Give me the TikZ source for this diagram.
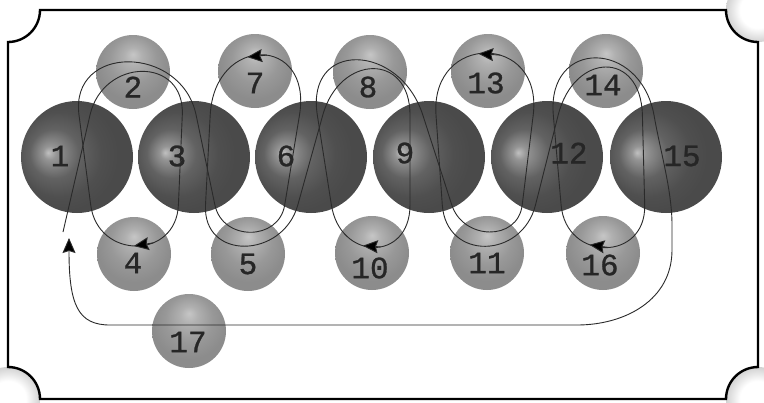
\documentclass[tikz,border=0pt]{standalone}
\usepackage{fontspec}
\newfontfamily\ballfont{Liberation Mono}[FakeBold=0.9]
\usetikzlibrary{arrows.meta,calc}
\definecolor{bigA}{HTML}{C0C0C0}
\definecolor{bigB}{HTML}{959595}
\definecolor{bigC}{HTML}{626262}
\definecolor{bigD}{HTML}{4F4F4F}
\definecolor{bigE}{HTML}{4A4A4A}
\definecolor{smA}{HTML}{C6C6C6}
\definecolor{smB}{HTML}{B0B0B0}
\definecolor{smC}{HTML}{989898}
\definecolor{smD}{HTML}{8C8C8C}
\definecolor{cornA}{HTML}{FFFFFF}
\definecolor{cornB}{HTML}{D2D2D2}
\definecolor{pathcol}{HTML}{2A2A2A}
\definecolor{labcol}{HTML}{262626}
\pgfdeclareradialshading{bigballshade}{\pgfpoint{-13bp}{2bp}}{color(0bp)=(bigA); color(3bp)=(bigB); color(11bp)=(bigC); color(19bp)=(bigD); color(25bp)=(bigE); color(50bp)=(bigE)}
\pgfdeclareradialshading{smallballshade}{\pgfpoint{0bp}{12bp}}{color(0bp)=(smA); color(6bp)=(smB); color(16bp)=(smC); color(25bp)=(smD); color(50bp)=(smD)}
\pgfdeclareradialshading{cornershade}{\pgfpoint{0bp}{0bp}}{color(0bp)=(cornA); color(14bp)=(cornA); color(25bp)=(cornB); color(50bp)=(cornB)}
\begin{document}
\begin{tikzpicture}[x=1bp,y=-1bp,
  bigball/.style={circle,minimum size=112bp,inner sep=0pt,shade,shading=bigballshade},
  smallball/.style={circle,minimum size=74bp,inner sep=0pt,shade,shading=smallballshade},
  lbl/.style={font=\ballfont\fontsize{31bp}{31bp}\selectfont,text=labcol,inner sep=0pt},
  route/.style={draw=pathcol,line width=0.9bp},
  headed/.style={route,-{Stealth[length=15bp,width=13bp,inset=2bp,fill=black]}},
  frame/.style={draw=black,line width=2.4bp}]
\useasboundingbox (0,0) rectangle (764,402);
\fill[white] (0,0) rectangle (764,402);
% corner shadings
\shade[shading=cornershade] (758,10) circle[radius=32];
\shade[shading=cornershade] (758,399) circle[radius=32];
\shade[shading=cornershade] (8,399) circle[radius=32];
% frame
\draw[frame] (40,10) -- (726,10) arc[start angle=180,end angle=90,radius=32]
  -- (758,367) arc[start angle=270,end angle=180,radius=32]
  -- (40,399) arc[start angle=0,end angle=-90,radius=32]
  -- (8,42) arc[start angle=90,end angle=0,radius=32] -- cycle;
% big balls
\node[bigball] (b1) at (77,157) {};
\node[bigball] (b3) at (194,157) {};
\node[bigball] (b6) at (311,157) {};
\node[bigball] (b9) at (429,157) {};
\node[bigball] (b12) at (547,157) {};
\node[bigball] (b15) at (666,157) {};
% small balls
\node[smallball] (s2) at (133,72) {};
\node[smallball] (s7) at (255,71) {};
\node[smallball] (s8) at (370,72) {};
\node[smallball] (s13) at (488,71) {};
\node[smallball] (s14) at (606,71) {};
\node[smallball] (s4) at (134,254) {};
\node[smallball] (s5) at (248,254) {};
\node[smallball] (s10) at (372,253) {};
\node[smallball] (s11) at (487,253) {};
\node[smallball] (s16) at (603,253) {};
\node[smallball] (s17) at (189,331) {};
% route feet
\coordinate (start) at (63,232);
\coordinate (t2iL) at (90,115);   \coordinate (t2iR) at (182.3,115);
\coordinate (t2oL) at (79,115);   \coordinate (t2oR) at (196.1,115);
\coordinate (t7R) at (299.5,115); \coordinate (t7L) at (210.2,115);
\coordinate (t8iL) at (322.8,115);\coordinate (t8iR) at (410,115);
\coordinate (t8oL) at (317.3,115);\coordinate (t8oR) at (422.8,115);
\coordinate (t13R) at (533.2,115);\coordinate (t13L) at (436,115);
\coordinate (t14iL) at (558.2,115);\coordinate (t14iR) at (642.4,115);
\coordinate (t14oL) at (553.3,115);\coordinate (t14oR) at (654,115);
\coordinate (b4R) at (178.4,205); \coordinate (b4L) at (90.7,205);
\coordinate (b5iL) at (214.9,205);\coordinate (b5iR) at (284.7,205);
\coordinate (b5oL) at (205.5,205);\coordinate (b5oR) at (297.8,205);
\coordinate (b10R) at (410,205);  \coordinate (b10L) at (331.4,205);
\coordinate (b11iL) at (451.8,205);\coordinate (b11iR) at (522.2,205);
\coordinate (b11oL) at (442.3,205);\coordinate (b11oR) at (535.5,205);
\coordinate (b16R) at (644.7,205);\coordinate (b16L) at (561.1,205);
\coordinate (down15) at (668,190);
\coordinate (finish) at (69,238);
% route
\draw[route] (start) -- (t2iL)
  .. controls ($(t2iL)!-59bp!(start)$) and ($(t2iR)!-59bp!(b4R)$) .. (t2iR) -- (b4R);
\draw[route] (b4R) .. controls ($(b4R)!-55bp!(t2iR)$) and ($(b4L)!-55bp!(t2oL)$) .. (b4L)
  coordinate[pos=0.36] (a4) coordinate[pos=0.52] (h4);
\draw[route] (b4L) -- (t2oL)
  .. controls ($(t2oL)!-72bp!(b4L)$) and ($(t2oR)!-72bp!(b5iL)$) .. (t2oR) -- (b5iL)
  .. controls ($(b5iL)!-37bp!(t2oR)$) and ($(b5iR)!-37bp!(t7R)$) .. (b5iR) -- (t7R);
\draw[route] (t7R) .. controls ($(t7R)!-81bp!(b5iR)$) and ($(t7L)!-81bp!(b5oL)$) .. (t7L)
  coordinate[pos=0.46] (a7) coordinate[pos=0.6] (h7);
\draw[route] (t7L) -- (b5oL)
  .. controls ($(b5oL)!-56bp!(t7L)$) and ($(b5oR)!-56bp!(t8iL)$) .. (b5oR) -- (t8iL)
  .. controls ($(t8iL)!-63bp!(b5oR)$) and ($(t8iR)!-63bp!(b10R)$) .. (t8iR) -- (b10R);
\draw[route] (b10R) .. controls ($(b10R)!-57bp!(t8iR)$) and ($(b10L)!-57bp!(t8oL)$) .. (b10L)
  coordinate[pos=0.44] (a10) coordinate[pos=0.6] (h10);
\draw[route] (b10L) -- (t8oL)
  .. controls ($(t8oL)!-76bp!(b10L)$) and ($(t8oR)!-76bp!(b11iL)$) .. (t8oR) -- (b11iL)
  .. controls ($(b11iL)!-37bp!(t8oR)$) and ($(b11iR)!-37bp!(t13R)$) .. (b11iR) -- (t13R);
\draw[route] (t13R) .. controls ($(t13R)!-83bp!(b11iR)$) and ($(t13L)!-83bp!(b11oL)$) .. (t13L)
  coordinate[pos=0.41] (a13) coordinate[pos=0.55] (h13);
\draw[route] (t13L) -- (b11oL)
  .. controls ($(b11oL)!-56bp!(t13L)$) and ($(b11oR)!-56bp!(t14iL)$) .. (b11oR) -- (t14iL)
  .. controls ($(t14iL)!-65bp!(b11oR)$) and ($(t14iR)!-65bp!(b16R)$) .. (t14iR) -- (b16R);
\draw[route] (b16R) .. controls ($(b16R)!-57bp!(t14iR)$) and ($(b16L)!-57bp!(t14oL)$) .. (b16L)
  coordinate[pos=0.47] (a16) coordinate[pos=0.63] (h16);
\draw[headed] (b16L) -- (t14oL)
  .. controls ($(t14oL)!-77bp!(b16L)$) and ($(t14oR)!-77bp!(down15)$) .. (t14oR)
  .. controls (660,150) and (672,190) .. (672,225)
  -- (672,250) .. controls (672,300) and (625,325) .. (577,325)
  -- (110,325) .. controls (78,325) and (69,305) .. (finish);
% arrowheads on the lobes
\draw[headed] (a4) -- (h4);
\draw[headed] (a7) -- (h7);
\draw[headed] (a10) -- (h10);
\draw[headed] (a13) -- (h13);
\draw[headed] (a16) -- (h16);
% labels
\node[lbl] (l1) at (60,156) {1};
\node[lbl] (l2) at (133,87) {2};
\node[lbl] (l3) at (177,156) {3};
\node[lbl] (l4) at (133,263) {4};
\node[lbl] (l5) at (248,264) {5};
\node[lbl] (l6) at (286,156) {6};
\node[lbl] (l7) at (255,83) {7};
\node[lbl] (l8) at (368,87) {8};
\node[lbl] (l9) at (405,153) {9};
\node[lbl] (l10) at (370,268) {10};
\node[lbl] (l11) at (487,263) {11};
\node[lbl] (l12) at (569,153) {12};
\node[lbl] (l13) at (486,83) {13};
\node[lbl] (l14) at (603,85) {14};
\node[lbl] (l15) at (682,156) {15};
\node[lbl] (l16) at (600,265) {16};
\node[lbl] (l17) at (188,342) {17};
\end{tikzpicture}
\end{document}
